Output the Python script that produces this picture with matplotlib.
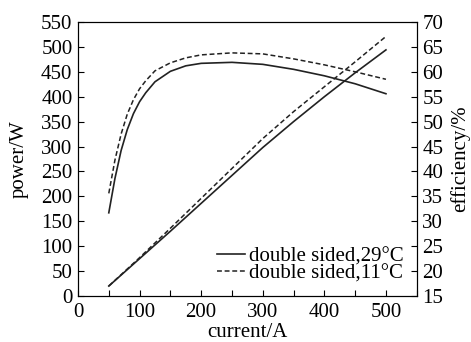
import numpy as np
import matplotlib.pyplot as plt

plt.rcParams['font.family'] = ['Liberation Serif', 'DejaVu Serif']
plt.rcParams['font.size'] = 15

# current (A) and power (W)
current_p = [50, 100, 150, 200, 250, 300, 350, 400, 450, 500]
power_29 = [20, 75, 130, 186, 242, 298, 350, 400, 448, 494]
power_11 = [20, 77, 136, 196, 256, 316, 370, 420, 470, 521]

# current (A) and efficiency (%)
current_e = [50, 60, 70, 80, 90, 100, 110, 125, 150, 175, 200, 250, 300, 350, 400, 450, 500]
eff_29 = [31.7, 38.6, 44.2, 48.4, 51.6, 54.0, 55.8, 58.0, 60.1, 61.2, 61.7, 61.9, 61.5, 60.5, 59.2, 57.6, 55.6]
eff_11 = [35.6, 42.3, 47.5, 51.5, 54.4, 56.6, 58.2, 60.2, 61.8, 62.8, 63.4, 63.8, 63.6, 62.6, 61.4, 60.0, 58.5]

col = '#222222'
fig = plt.figure(figsize=(4.71, 3.42), dpi=100)
ax = fig.add_axes([0.1656, 0.1345, 0.7192, 0.8012])
ax2 = ax.twinx()

l1, = ax.plot(current_p, power_29, color=col, lw=1.2)
l2, = ax.plot(current_p, power_11, color=col, lw=1.1, dashes=(3.2, 1.8))
ax2.plot(current_e, eff_29, color=col, lw=1.2)
ax2.plot(current_e, eff_11, color=col, lw=1.1, dashes=(3.2, 1.8))

ax.set_xlim(0, 550)
ax.set_ylim(0, 550)
ax2.set_ylim(15, 70)
ax.set_xticks(np.arange(0, 501, 100))
ax.set_xticks(np.arange(50, 551, 100), minor=True)
ax.set_yticks(np.arange(0, 551, 50))
ax2.set_yticks(np.arange(15, 71, 5))

ax.tick_params(axis='both', which='both', direction='in', length=4, pad=4, width=0.8)
ax2.tick_params(axis='y', direction='in', length=4, pad=4, width=0.8)
ax.tick_params(axis='x', pad=5)

ax.set_xlabel('current/A', labelpad=1)
ax.set_ylabel('power/W', labelpad=9)
ax2.set_ylabel('efficiency/%', labelpad=5)

ax.legend([l1, l2], ['double sided,29°C', 'double sided,11°C'], loc='lower right',
          bbox_to_anchor=(0.96, 0.045), frameon=False, handlelength=1.35,
          handletextpad=0.15, labelspacing=-0.12, borderaxespad=0, borderpad=0)

fig.savefig('out.png', dpi=100)
